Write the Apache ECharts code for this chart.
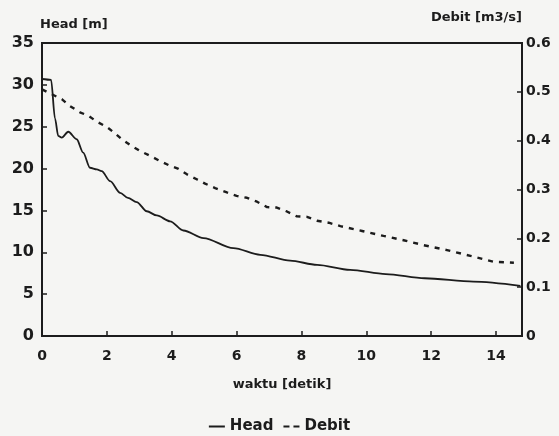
<!DOCTYPE html>
<html>
<head>
<meta charset="utf-8">
<script src="https://cdn.jsdelivr.net/npm/echarts@6/dist/echarts.min.js"></script>
<style>
  html, body { margin: 0; padding: 0; background: #f5f5f3; }
  #chart { width: 559px; height: 436px; }
</style>
</head>
<body>
<div id="chart"></div>
<script>
// Head [m] over time
const headTime  = [0, 0.28, 0.4, 0.5, 0.61, 0.81, 1.07, 1.27, 1.48, 1.69, 1.84, 2.1, 2.41, 2.65, 2.92, 3.23, 3.54, 3.95, 4.36, 4.98, 5.9, 6.73, 7.65, 8.48, 9.5, 10.6, 11.8, 13.3, 14.75];
const headValue = [30.7, 30.6, 26.0, 23.9, 23.7, 24.4, 23.5, 21.9, 20.1, 19.9, 19.7, 18.5, 17.1, 16.5, 16.0, 14.9, 14.4, 13.7, 12.6, 11.7, 10.5, 9.7, 9.0, 8.5, 7.9, 7.4, 6.9, 6.5, 6.0];

// Debit [m3/s] over time
const debitTime  = [0, 0.61, 0.86, 1.17, 1.43, 1.69, 2.0, 2.25, 2.46, 2.72, 3.02, 3.33, 3.59, 3.9, 4.21, 4.47, 4.77, 5.03, 5.34, 5.7, 6.0, 6.32, 6.63, 6.94, 7.24, 7.55, 7.86, 8.17, 8.48, 8.84, 9.2, 9.87, 10.53, 11.15, 11.77, 12.49, 13.21, 13.93, 14.55];
const debitValue = [0.505, 0.485, 0.471, 0.458, 0.451, 0.439, 0.428, 0.415, 0.403, 0.391, 0.379, 0.369, 0.360, 0.350, 0.342, 0.331, 0.321, 0.312, 0.303, 0.294, 0.287, 0.283, 0.275, 0.264, 0.263, 0.255, 0.245, 0.244, 0.236, 0.232, 0.225, 0.215, 0.205, 0.196, 0.186, 0.176, 0.164, 0.152, 0.150];

// Axis ranges and tick steps
const timeRange  = [0, 14.8];
const timeStep   = 2;
const headRange  = [0, 35];
const headStep   = 5;
const debitRange = [0, 0.6];
const debitStep  = 0.1;

const ink = '#1c1c1c';
const font = 'DejaVu Sans';

const pairs = (xs, ys) => xs.map((x, i) => [x, ys[i]]);

const chart = echarts.init(document.getElementById('chart'), null, { renderer: 'canvas' });

chart.setOption({
  backgroundColor: '#f5f5f3',
  animation: false,
  textStyle: { fontFamily: font, color: ink },
  grid: {
    left: 42, right: 37, top: 43, bottom: 100,
    show: true, borderColor: ink, borderWidth: 2, backgroundColor: 'transparent'
  },
  legend: {
    data: [
      { name: 'Head', icon: 'rect' },
      { name: 'Debit', icon: 'path://M0,0h6v2h-6z M10,0h6v2h-6z' }
    ],
    bottom: 2,
    left: 'center',
    padding: 0,
    itemWidth: 16,
    itemHeight: 2,
    itemGap: 10,
    itemStyle: { color: ink, borderWidth: 0 },
    textStyle: { fontFamily: font, fontWeight: 'bold', fontSize: 15, color: ink, padding: [0, 0, 0, 0] }
  },
  xAxis: {
    type: 'value',
    min: timeRange[0], max: timeRange[1], interval: timeStep,
    name: 'waktu [detik]',
    nameLocation: 'middle',
    nameGap: 42,
    nameTextStyle: { fontFamily: font, fontWeight: 'bold', fontSize: 13, color: ink },
    axisLine: { lineStyle: { color: ink, width: 2 } },
    axisTick: { inside: true, length: 5, lineStyle: { color: ink, width: 1.5 } },
    axisLabel: { margin: 13, fontFamily: font, fontWeight: 'bold', fontSize: 14, color: ink, showMaxLabel: false },
    splitLine: { show: false }
  },
  yAxis: [
    {
      type: 'value',
      min: headRange[0], max: headRange[1], interval: headStep,
      name: 'Head [m]',
      nameLocation: 'end',
      nameGap: 12,
      nameTextStyle: { fontFamily: font, fontWeight: 'bold', fontSize: 13, color: ink, align: 'left', verticalAlign: 'bottom', padding: [0, 0, 0, -2] },
      axisLine: { show: true, lineStyle: { color: ink, width: 2 } },
      axisTick: { show: true, inside: true, length: 5, lineStyle: { color: ink, width: 1.5 } },
      axisLabel: { margin: 8, fontFamily: font, fontWeight: 'bold', fontSize: 16, color: ink },
      splitLine: { show: false }
    },
    {
      type: 'value',
      position: 'right',
      min: debitRange[0], max: debitRange[1], interval: debitStep,
      name: 'Debit [m3/s]',
      nameLocation: 'end',
      nameGap: 19,
      nameTextStyle: { fontFamily: font, fontWeight: 'bold', fontSize: 13, color: ink, align: 'right', verticalAlign: 'bottom' },
      axisLine: { show: true, lineStyle: { color: ink, width: 2 } },
      axisTick: { show: true, inside: true, length: 5, lineStyle: { color: ink, width: 1.5 } },
      axisLabel: { margin: 4, fontFamily: font, fontWeight: 'bold', fontSize: 14, color: ink },
      splitLine: { show: false }
    }
  ],
  series: [
    {
      name: 'Head',
      type: 'line',
      yAxisIndex: 0,
      data: pairs(headTime, headValue),
      showSymbol: false,
      symbol: 'none',
      smooth: 0.3,
      smoothMonotone: 'x',
      lineStyle: { color: ink, width: 1.8 },
      itemStyle: { color: ink }
    },
    {
      name: 'Debit',
      type: 'line',
      yAxisIndex: 1,
      data: pairs(debitTime, debitValue),
      showSymbol: false,
      symbol: 'none',
      lineStyle: { color: ink, width: 2.4, type: [5, 6] },
      itemStyle: { color: ink }
    }
  ]
});
</script>
</body>
</html>
